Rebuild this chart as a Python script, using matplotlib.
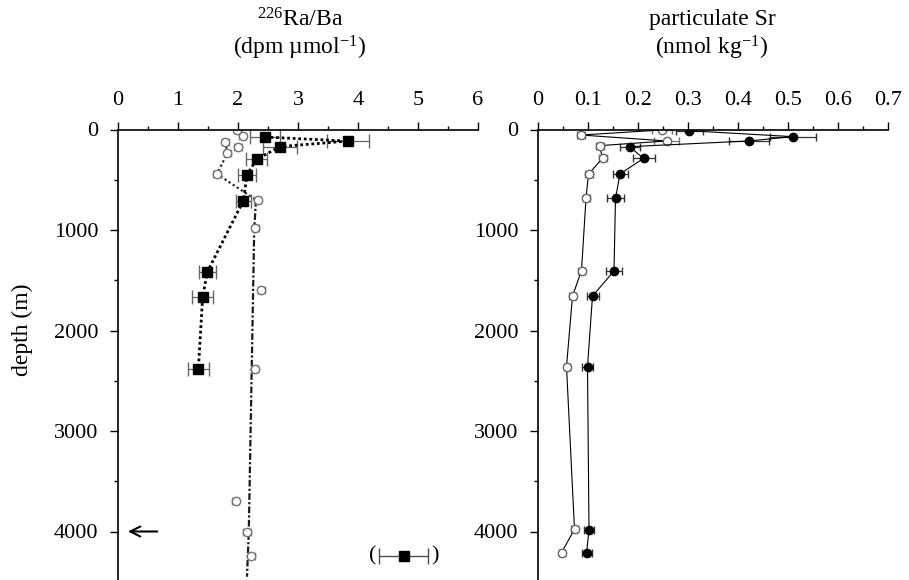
import matplotlib
matplotlib.use("Agg")
import matplotlib.pyplot as plt
import numpy as np

plt.rcParams['font.family'] = ['Liberation Serif', 'DejaVu Serif']
plt.rcParams['mathtext.fontset'] = 'custom'
plt.rcParams['mathtext.rm'] = 'Liberation Serif'
plt.rcParams['mathtext.it'] = 'Liberation Serif:italic'
plt.rcParams['mathtext.bf'] = 'Liberation Serif:bold'

# Ra/Ba, filled squares (dotted line)
sq_depth = [75, 115, 170, 297, 450, 708, 1415, 1670, 2380]
sq_ratio = [2.45, 3.83, 2.70, 2.31, 2.15, 2.09, 1.49, 1.41, 1.34]
sq_err = [0.25, 0.35, 0.29, 0.17, 0.15, 0.13, 0.14, 0.17, 0.17]

# Ra/Ba, open circles
oc_depth = [0, 62, 121, 171, 237, 443, 701, 983, 1597, 2380, 3697, 4002, 4244]
oc_ratio = [1.99, 2.08, 1.79, 2.00, 1.82, 1.65, 2.33, 2.29, 2.39, 2.28, 1.96, 2.15, 2.22]
oc_err = 0.06

# line drawn through open circles (upper dotted part, lower dash-dot part)
upper_depth = [121, 237, 443, 701]
upper_ratio = [1.79, 1.82, 1.65, 2.30]
lower_depth = [701, 1000, 2000, 3000, 4000, 4450]
lower_ratio = [2.30, 2.27, 2.24, 2.21, 2.18, 2.15]

# deep square shown in parentheses
deep_depth = 4244
deep_ratio = 4.76
deep_err = 0.41

# particulate Sr
sr_open_depth = [5, 55, 114, 161, 287, 443, 685, 1405, 1657, 2360, 3978, 4211]
sr_open = [0.247, 0.086, 0.257, 0.123, 0.129, 0.101, 0.096, 0.087, 0.069, 0.057, 0.073, 0.047]
sr_open_err = [0.02, 0.008, 0.025, 0.008, 0.008, 0.008, 0.007, 0.007, 0.007, 0.006, 0.007, 0.006]

sr_fill_depth = [12, 71, 114, 171, 287, 443, 685, 1408, 1657, 2360, 3985, 4217]
sr_fill = [0.302, 0.509, 0.422, 0.183, 0.211, 0.164, 0.155, 0.152, 0.109, 0.099, 0.102, 0.097]
sr_fill_err = [0.027, 0.046, 0.04, 0.02, 0.022, 0.015, 0.017, 0.016, 0.012, 0.011, 0.01, 0.01]

W, H = 909, 580
fig = plt.figure(figsize=(W / 100, H / 100), dpi=100)
top = 1 - 129.5 / H
ax1 = fig.add_axes([118 / W, 0, 360 / W, top])
ax2 = fig.add_axes([538 / W, 0, 350 / W, top])
dmax = 450.5 / 100.5 * 1000

for ax in (ax1, ax2):
    ax.set_ylim(dmax, 0)
    ax.xaxis.tick_top()
    ax.spines['right'].set_visible(False)
    ax.spines['bottom'].set_visible(False)
    ax.spines['top'].set_linewidth(1.2)
    ax.spines['left'].set_linewidth(1.2)
    ax.set_yticks([0, 1000, 2000, 3000, 4000])
    ax.set_yticks([500, 1500, 2500, 3500], minor=True)
    ax.tick_params(axis='both', which='major', direction='out', length=6,
                   width=1, labelsize=16, pad=8)
    ax.tick_params(axis='both', which='minor', direction='out', length=3, width=1)
    ax.tick_params(axis='x', which='both', top=True, bottom=False)

ax1.set_xlim(0, 6)
ax1.set_xticks(np.arange(0, 7, 1))
ax1.set_xticks(np.arange(0.5, 6, 1), minor=True)

ax2.set_xlim(0, 0.7)
ax2.set_xticks(np.arange(0, 0.71, 0.1))
ax2.set_xticklabels(['0', '0.1', '0.2', '0.3', '0.4', '0.5', '0.6', '0.7'])
ax2.set_xticks(np.arange(0.05, 0.7, 0.1), minor=True)

# left panel
ax1.plot(upper_ratio, upper_depth, color='0.15', ls=(0, (1, 1.2)), lw=1.6)
ax1.plot(lower_ratio, lower_depth, color='0.1', ls=(0, (3, 1, 1, 1)), lw=1.6)
ax1.errorbar(oc_ratio, oc_depth, xerr=oc_err, fmt='o', ms=6, mfc='white',
             mec='0.45', mew=1, ecolor='0.55', elinewidth=0.8, capsize=3)
ax1.errorbar(sq_ratio, sq_depth, xerr=sq_err, fmt='s', ms=7, color='black',
             ls=(0, (1, 1)), lw=2.0, ecolor='0.4', elinewidth=0.9, capsize=5)
ax1.errorbar([deep_ratio], [deep_depth], xerr=deep_err, fmt='s', ms=7,
             color='black', ecolor='0.3', elinewidth=1, capsize=6)
ax1.text(deep_ratio - deep_err - 0.1, deep_depth, '(', fontsize=16,
         ha='center', va='center')
ax1.text(deep_ratio + deep_err + 0.12, deep_depth, ')', fontsize=16,
         ha='center', va='center')
ax1.annotate('', xy=(0.12, 4000), xytext=(0.7, 4000),
             arrowprops=dict(arrowstyle='->', lw=1.5, mutation_scale=18,
                             color='black'))

# right panel
ax2.errorbar(sr_open, sr_open_depth, xerr=sr_open_err, fmt='-o', ms=6,
             color='black', mfc='white', mec='0.4', lw=0.8,
             ecolor='0.45', elinewidth=0.8, capsize=3)
ax2.errorbar(sr_fill, sr_fill_depth, xerr=sr_fill_err, fmt='-o', ms=6,
             color='black', lw=0.8, ecolor='0.2', elinewidth=0.9, capsize=3)

# titles
fig.text(300 / W, 1 - 20 / H, r'$\mathregular{^{226}}$Ra/Ba', fontsize=17, ha='center', va='center')
fig.text(300 / W, 1 - 48 / H, r'(dpm µmol$\mathregular{^{-1}}$)', fontsize=17, ha='center', va='center')
fig.text(712 / W, 1 - 20 / H, 'particulate Sr', fontsize=17, ha='center', va='center')
fig.text(712 / W, 1 - 48 / H, r'(nmol kg$\mathregular{^{-1}}$)', fontsize=17, ha='center', va='center')
fig.text(22 / W, 1 - 330 / H, 'depth (m)', fontsize=17, rotation=90,
         ha='center', va='center')

fig.savefig('out.png', dpi=100)
